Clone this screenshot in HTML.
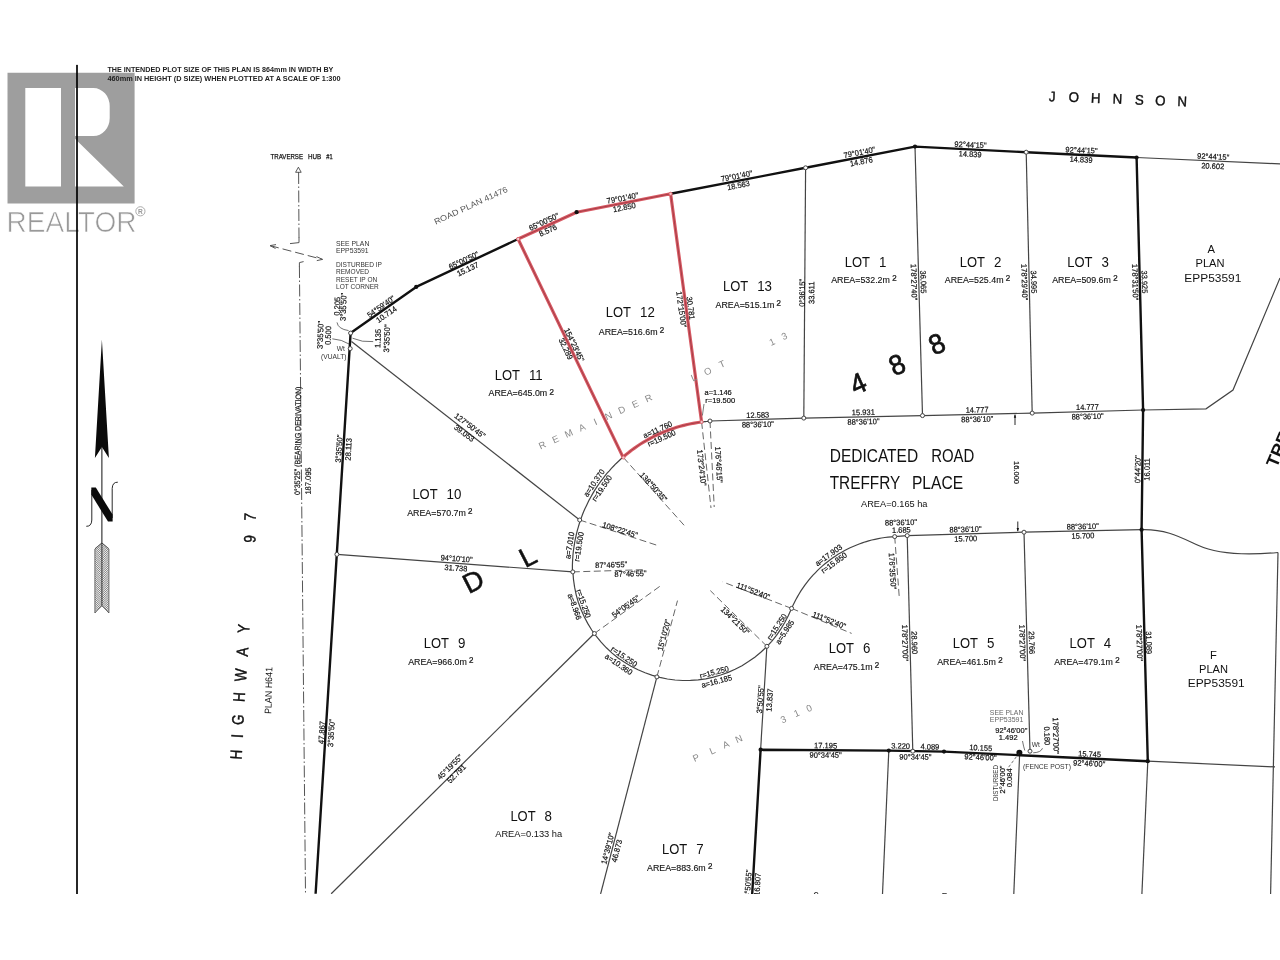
<!DOCTYPE html>
<html lang="en"><head><meta charset="utf-8"><title>Subdivision plan - Lot 12 Treffry Place</title>
<style>html,body{margin:0;padding:0;background:#fff;}body{width:1280px;height:960px;overflow:hidden;}svg{display:block;filter:blur(0.3px);}text{font-family:"Liberation Sans",sans-serif;}</style></head>
<body>
<svg width="1280" height="960" viewBox="0 0 1280 960" font-family="'Liberation Sans', sans-serif">
<rect width="1280" height="960" fill="#fff"/>
<defs><clipPath id="cp"><rect x="0" y="64.5" width="1280" height="829.5"/></clipPath></defs>
<g clip-path="url(#cp)">
<g>
<path fill-rule="evenodd" fill="#9e9e9e" d="M7.5 72.8 H134.6 V203.4 H7.5 Z M25.3 88.1 V186.6 H61 V88.1 Z M75 88.1 V136 H93.5 A16.2 18 0 0 0 109.7 118 V106.1 A16.2 18 0 0 0 93.5 88.1 Z M75 138.8 V186.6 H123.8 Z"/>
</g>
<text x="6.6" y="231.9" font-size="30.2" textLength="130" lengthAdjust="spacingAndGlyphs" fill="#999" stroke="#fff" stroke-width="0.7">REALTOR</text>
<circle cx="140.4" cy="211.3" r="4.6" fill="none" stroke="#a2a2a2" stroke-width="0.9"/>
<text x="140.4" y="213.7" font-size="6.6" text-anchor="middle" fill="#9a9a9a" font-weight="bold">R</text>
<text transform="translate(107.4 69.3)" y="2.51" font-size="7.0" text-anchor="start" fill="#222" textLength="226.0" lengthAdjust="spacingAndGlyphs" font-weight="bold">THE INTENDED PLOT SIZE OF THIS PLAN IS 864mm IN WIDTH BY</text>
<text transform="translate(107.4 78.7)" y="2.51" font-size="7.0" text-anchor="start" fill="#222" textLength="233.2" lengthAdjust="spacingAndGlyphs" font-weight="bold">460mm IN HEIGHT (D SIZE) WHEN PLOTTED AT A SCALE OF 1:300</text>
<path d="M77.0 64.7 L77.0 894.0" fill="none" stroke="#000" stroke-width="1.70"/>
<path d="M1136.6 157.5 L1280.0 163.9" fill="none" stroke="#444" stroke-width="1.20"/>
<path d="M805.6 167.8 L803.8 418.1" fill="none" stroke="#444" stroke-width="1.20"/>
<path d="M915.0 146.6 L922.5 415.6" fill="none" stroke="#444" stroke-width="1.20"/>
<path d="M1026.2 152.2 L1032.2 413.1" fill="none" stroke="#444" stroke-width="1.20"/>
<path d="M710.0 421.0 L803.8 418.1 L922.5 415.6 L1032.2 413.1 L1143.1 410.0 L1206.0 408.8 L1233.0 390.0 L1280.0 278.0" fill="none" stroke="#444" stroke-width="1.20"/>
<path d="M894.7 536.6 L907.2 535.6 L1024.0 532.2 L1141.6 529.7" fill="none" stroke="#444" stroke-width="1.20"/>
<path d="M907.2 535.6 L912.8 751.2" fill="none" stroke="#444" stroke-width="1.20"/>
<path d="M1024.0 532.2 L1030.0 751.2" fill="none" stroke="#444" stroke-width="1.20"/>
<path d="M351.5 341.5 L579.7 520.0" fill="none" stroke="#444" stroke-width="1.20"/>
<path d="M336.9 554.4 L572.8 571.9" fill="none" stroke="#444" stroke-width="1.20"/>
<path d="M594.4 633.5 L331.2 893.8" fill="none" stroke="#444" stroke-width="1.20"/>
<path d="M656.9 676.9 L600.6 894.0" fill="none" stroke="#444" stroke-width="1.20"/>
<path d="M766.9 646.3 L760.6 749.7" fill="none" stroke="#444" stroke-width="1.20"/>
<path d="M888.8 750.6 L882.5 894.0" fill="none" stroke="#444" stroke-width="1.20"/>
<path d="M1019.6 754.9 L1013.8 894.0" fill="none" stroke="#444" stroke-width="1.20"/>
<path d="M1147.8 761.2 L1141.9 894.0" fill="none" stroke="#444" stroke-width="1.20"/>
<path d="M1147.8 761.2 L1275.0 766.9" fill="none" stroke="#444" stroke-width="1.20"/>
<path d="M1278.0 552.5 L1270.6 894.0" fill="none" stroke="#444" stroke-width="1.20"/>
<path d="M1141.6 529.7 C1166 529 1180 537 1198 545.3 S1240 556 1278 552.5" fill="none" stroke="#444" stroke-width="1.2"/>
<path d="M572.4 571.9 L572.4 568.7 L572.4 565.4 L572.5 562.2 L572.7 559.0 L572.9 555.7 L573.2 552.5 L573.6 549.3 L574.1 546.1 L574.6 542.9 L575.2 539.7 L575.9 536.5 L576.6 533.4 L577.4 530.2 L578.3 527.1 L579.2 524.0 L580.2 520.9 L581.3 517.9 L582.4 514.8 L583.6 511.8 L584.9 508.8 L586.3 505.9 L587.7 503.0 L589.1 500.1 L590.7 497.2 L592.3 494.4 L593.9 491.6 L595.6 488.9 L597.4 486.2 L599.2 483.5 L601.1 480.9 L603.1 478.3 L605.1 475.7 L607.1 473.2 L609.3 470.8 L611.4 468.4 L613.7 466.0 L615.9 463.7 L618.3 461.5 L620.6 459.3 L623.0 457.1" fill="none" stroke="#444" stroke-width="1.20"/>
<path d="M701.6 422.0 L701.8 422.0 L702.0 422.0 L702.2 421.9 L702.5 421.9 L702.7 421.9 L702.9 421.9 L703.1 421.9 L703.3 421.8 L703.5 421.8 L703.7 421.8 L703.9 421.8 L704.1 421.7 L704.3 421.7 L704.6 421.7 L704.8 421.7 L705.0 421.6 L705.2 421.6 L705.4 421.6 L705.6 421.6 L705.8 421.6 L706.0 421.5 L706.2 421.5 L706.4 421.5 L706.6 421.5 L706.9 421.5 L707.1 421.5 L707.3 421.4 L707.5 421.4 L707.7 421.4 L707.9 421.4 L708.1 421.4 L708.3 421.3 L708.5 421.3 L708.8 421.3 L709.0 421.3 L709.2 421.3 L709.4 421.3 L709.6 421.3 L709.8 421.2 L710.0 421.2" fill="none" stroke="#444" stroke-width="1.20"/>
<path d="M572.9 571.9 L573.5 579.6 L574.6 587.2 L576.2 594.8 L578.3 602.2 L581.0 609.5 L584.1 616.5 L587.7 623.4 L591.7 630.0 L596.2 636.2 L601.1 642.2 L606.4 647.8 L612.1 653.1 L618.1 657.9 L624.5 662.3 L631.1 666.3 L638.0 669.8 L645.1 672.8 L652.4 675.4 L659.8 677.4 L667.4 679.0 L675.0 680.0 L682.7 680.5 L690.5 680.4 L698.2 679.8 L705.8 678.8 L713.4 677.1 L720.8 675.0 L728.1 672.4 L735.1 669.3 L742.0 665.7 L748.5 661.6 L754.8 657.2 L760.8 652.3 L766.4 647.0 L771.7 641.3 L776.5 635.3 L780.9 628.9 L784.9 622.3 L788.4 615.5 L791.5 608.4" fill="none" stroke="#444" stroke-width="1.20"/>
<path d="M791.6 608.4 L792.9 605.4 L794.4 602.4 L795.9 599.5 L797.5 596.6 L799.2 593.7 L800.9 590.9 L802.8 588.1 L804.7 585.4 L806.6 582.8 L808.7 580.2 L810.8 577.7 L813.0 575.2 L815.3 572.8 L817.6 570.4 L820.0 568.1 L822.5 565.9 L825.0 563.8 L827.6 561.7 L830.2 559.7 L832.9 557.8 L835.6 555.9 L838.4 554.1 L841.3 552.4 L844.2 550.8 L847.1 549.3 L850.1 547.8 L853.1 546.5 L856.1 545.2 L859.2 544.0 L862.3 542.9 L865.5 541.8 L868.6 540.9 L871.8 540.0 L875.0 539.3 L878.3 538.6 L881.5 538.0 L884.8 537.5 L888.1 537.1 L891.4 536.8 L894.7 536.6" fill="none" stroke="#444" stroke-width="1.20"/>
<path d="M623.4 457.5 L684.4 525.6" fill="none" stroke="#666" stroke-width="1.00" stroke-dasharray="7 3.5"/>
<path d="M579.7 520.0 L656.2 545.0" fill="none" stroke="#666" stroke-width="1.00" stroke-dasharray="7 3.5"/>
<path d="M572.8 571.9 L645.9 569.6" fill="none" stroke="#666" stroke-width="1.00" stroke-dasharray="7 3.5"/>
<path d="M594.4 633.5 L662.5 584.4" fill="none" stroke="#666" stroke-width="1.00" stroke-dasharray="7 3.5"/>
<path d="M656.9 676.9 L677.5 600.6" fill="none" stroke="#666" stroke-width="1.00" stroke-dasharray="7 3.5"/>
<path d="M766.9 646.3 L710.3 590.6" fill="none" stroke="#666" stroke-width="1.00" stroke-dasharray="7 3.5"/>
<path d="M791.6 608.4 L722.8 581.9" fill="none" stroke="#666" stroke-width="1.00" stroke-dasharray="7 3.5"/>
<path d="M791.6 608.4 L851.6 633.4" fill="none" stroke="#666" stroke-width="1.00" stroke-dasharray="7 3.5"/>
<path d="M701.6 421.9 L711.0 508.0" fill="none" stroke="#666" stroke-width="1.00" stroke-dasharray="7 3.5"/>
<path d="M710.0 421.0 L714.2 507.0" fill="none" stroke="#666" stroke-width="1.00" stroke-dasharray="7 3.5"/>
<path d="M894.7 536.6 L899.4 599.0" fill="none" stroke="#666" stroke-width="1.00" stroke-dasharray="7 3.5"/>
<path d="M298.6 172.0 L299.0 238.0" fill="none" stroke="#555" stroke-width="1.00" stroke-dasharray="12 2.5 1.5 2.5"/>
<path d="M299.0 237.5 L299.0 242.6 L290.0 243.6" fill="none" stroke="#555" stroke-width="1.00"/>
<path d="M299.4 266.5 L299.4 262.6 L303.6 261.6" fill="none" stroke="#555" stroke-width="1.00"/>
<path d="M299.4 266.0 L305.5 894.0" fill="none" stroke="#555" stroke-width="1.00" stroke-dasharray="12 2.5 1.5 2.5"/>
<path d="M270.0 245.6 L322.5 259.4" fill="none" stroke="#555" stroke-width="1.00" stroke-dasharray="9 4"/>
<path d="M276.0 244.6 L270.0 245.6 L275.5 248.5" fill="none" stroke="#555" stroke-width="1.00"/>
<path d="M316.5 256.6 L322.5 259.4 L316.8 260.6" fill="none" stroke="#555" stroke-width="1.00"/>
<path d="M298.4 167.2 L295.6 172.3 L301.2 172.3 Z" fill="#fff" stroke="#333" stroke-width="0.8"/>
<path d="M315.6 893.8 L350.6 333.1 L416.2 286.9 L518.1 239.0" fill="none" stroke="#111" stroke-width="2.40" stroke-linejoin="round"/>
<path d="M670.6 193.8 L805.6 167.8 L915.0 146.6 L1026.2 152.2 L1136.6 157.5 L1143.1 410.0 L1141.6 529.7 L1147.8 761.2 L944.0 751.6 L888.8 750.6 L760.6 749.7 L752.2 894.0" fill="none" stroke="#111" stroke-width="2.40" stroke-linejoin="round"/>
<path d="M518.1 239.0 L576.6 212.2 L670.6 193.8 L701.6 422.0 L698.0 422.5 L694.4 423.1 L690.8 423.8 L687.3 424.5 L683.7 425.4 L680.2 426.3 L676.7 427.3 L673.3 428.4 L669.8 429.6 L666.4 430.9 L663.1 432.3 L659.7 433.7 L656.4 435.2 L653.1 436.8 L649.9 438.5 L646.7 440.3 L643.6 442.1 L640.5 444.0 L637.5 446.0 L634.5 448.1 L631.5 450.2 L628.7 452.5 L625.8 454.7 L623.0 457.1 Z" fill="none" stroke="#d85a64" stroke-width="3.2" stroke-linejoin="round"/>
<path d="M518.1 239.0 L576.6 212.2 L670.6 193.8 L701.6 422.0 L698.0 422.5 L694.4 423.1 L690.8 423.8 L687.3 424.5 L683.7 425.4 L680.2 426.3 L676.7 427.3 L673.3 428.4 L669.8 429.6 L666.4 430.9 L663.1 432.3 L659.7 433.7 L656.4 435.2 L653.1 436.8 L649.9 438.5 L646.7 440.3 L643.6 442.1 L640.5 444.0 L637.5 446.0 L634.5 448.1 L631.5 450.2 L628.7 452.5 L625.8 454.7 L623.0 457.1 Z" fill="none" stroke="#8e3038" stroke-width="0.9" stroke-linejoin="round" opacity="0.75"/>
<circle cx="416.2" cy="286.9" r="2.1" fill="#111"/>
<circle cx="576.6" cy="212.2" r="2.1" fill="#111"/>
<circle cx="915.0" cy="146.6" r="2.1" fill="#111"/>
<circle cx="1136.6" cy="157.5" r="2.1" fill="#111"/>
<circle cx="1143.1" cy="410.0" r="2.1" fill="#111"/>
<circle cx="1141.6" cy="529.7" r="2.1" fill="#111"/>
<circle cx="1147.8" cy="761.2" r="2.1" fill="#111"/>
<circle cx="760.6" cy="749.7" r="2.1" fill="#111"/>
<circle cx="888.8" cy="750.6" r="2.1" fill="#111"/>
<circle cx="944.0" cy="751.6" r="2.1" fill="#111"/>
<circle cx="1019.4" cy="752.7" r="3" fill="#111"/>
<circle cx="350.6" cy="333.1" r="2.0" fill="#fff" stroke="#444" stroke-width="1.0"/>
<circle cx="350.2" cy="348.6" r="2.0" fill="#fff" stroke="#444" stroke-width="1.0"/>
<circle cx="336.9" cy="554.4" r="2.0" fill="#fff" stroke="#444" stroke-width="1.0"/>
<circle cx="579.7" cy="520.0" r="2.0" fill="#fff" stroke="#444" stroke-width="1.0"/>
<circle cx="572.8" cy="571.9" r="2.0" fill="#fff" stroke="#444" stroke-width="1.0"/>
<circle cx="594.4" cy="633.5" r="2.0" fill="#fff" stroke="#444" stroke-width="1.0"/>
<circle cx="656.9" cy="676.9" r="2.0" fill="#fff" stroke="#444" stroke-width="1.0"/>
<circle cx="766.9" cy="646.3" r="2.0" fill="#fff" stroke="#444" stroke-width="1.0"/>
<circle cx="791.6" cy="608.4" r="2.0" fill="#fff" stroke="#444" stroke-width="1.0"/>
<circle cx="710.0" cy="421.0" r="2.0" fill="#fff" stroke="#444" stroke-width="1.0"/>
<circle cx="803.8" cy="418.1" r="2.0" fill="#fff" stroke="#444" stroke-width="1.0"/>
<circle cx="922.5" cy="415.6" r="2.0" fill="#fff" stroke="#444" stroke-width="1.0"/>
<circle cx="1032.2" cy="413.1" r="2.0" fill="#fff" stroke="#444" stroke-width="1.0"/>
<circle cx="805.6" cy="167.8" r="2.0" fill="#fff" stroke="#444" stroke-width="1.0"/>
<circle cx="1026.2" cy="152.2" r="2.0" fill="#fff" stroke="#444" stroke-width="1.0"/>
<circle cx="894.7" cy="536.6" r="2.0" fill="#fff" stroke="#444" stroke-width="1.0"/>
<circle cx="907.2" cy="535.6" r="2.0" fill="#fff" stroke="#444" stroke-width="1.0"/>
<circle cx="1024.0" cy="532.2" r="2.0" fill="#fff" stroke="#444" stroke-width="1.0"/>
<circle cx="912.8" cy="751.2" r="2.0" fill="#fff" stroke="#444" stroke-width="1.0"/>
<circle cx="1030.0" cy="751.2" r="2.0" fill="#fff" stroke="#444" stroke-width="1.0"/>
<circle cx="623.4" cy="457.5" r="1.6" fill="#f3c9cc" stroke="#d85a64" stroke-width="0.8"/>
<circle cx="701.6" cy="421.9" r="1.6" fill="#f3c9cc" stroke="#d85a64" stroke-width="0.8"/>
<circle cx="518.1" cy="239.0" r="1.6" fill="#f3c9cc" stroke="#d85a64" stroke-width="0.8"/>
<circle cx="670.6" cy="193.8" r="1.6" fill="#f3c9cc" stroke="#d85a64" stroke-width="0.8"/>
<path d="M1015.0 414.7 L1015.0 425.0" fill="none" stroke="#111" stroke-width="0.90"/>
<path d="M1017.8 521.5 L1017.8 531.0" fill="none" stroke="#111" stroke-width="0.90"/>
<path d="M1015 414.2 l-1.2 3.5 h2.4 Z" fill="#111"/>
<path d="M1017.8 531.6 l-1.2 -3.5 h2.4 Z" fill="#111"/>
<text y="316.90" font-size="14.8" fill="#111"><tspan x="605.8" textLength="25.0" lengthAdjust="spacingAndGlyphs">LOT</tspan> <tspan x="640.0" textLength="14.8" lengthAdjust="spacingAndGlyphs">12</tspan></text>
<text x="598.8" y="335.08" font-size="8.6" fill="#111" stroke="#111" stroke-width="0.12"><tspan textLength="58.7" lengthAdjust="spacingAndGlyphs">AREA=516.6m</tspan><tspan x="659.7" dy="1.2" font-size="13">²</tspan></text>
<text y="290.90" font-size="14.8" fill="#111"><tspan x="723.0" textLength="25.0" lengthAdjust="spacingAndGlyphs">LOT</tspan> <tspan x="757.2" textLength="14.8" lengthAdjust="spacingAndGlyphs">13</tspan></text>
<text x="715.6" y="307.78" font-size="8.6" fill="#111" stroke="#111" stroke-width="0.12"><tspan textLength="58.7" lengthAdjust="spacingAndGlyphs">AREA=515.1m</tspan><tspan x="776.6" dy="1.2" font-size="13">²</tspan></text>
<text y="266.90" font-size="14.8" fill="#111"><tspan x="844.8" textLength="25.0" lengthAdjust="spacingAndGlyphs">LOT</tspan> <tspan x="879.0" textLength="7.4" lengthAdjust="spacingAndGlyphs">1</tspan></text>
<text x="831.2" y="282.78" font-size="8.6" fill="#111" stroke="#111" stroke-width="0.12"><tspan textLength="58.7" lengthAdjust="spacingAndGlyphs">AREA=532.2m</tspan><tspan x="892.2" dy="1.2" font-size="13">²</tspan></text>
<text y="266.90" font-size="14.8" fill="#111"><tspan x="959.8" textLength="25.0" lengthAdjust="spacingAndGlyphs">LOT</tspan> <tspan x="994.0" textLength="7.4" lengthAdjust="spacingAndGlyphs">2</tspan></text>
<text x="944.8" y="282.78" font-size="8.6" fill="#111" stroke="#111" stroke-width="0.12"><tspan textLength="58.7" lengthAdjust="spacingAndGlyphs">AREA=525.4m</tspan><tspan x="1005.7" dy="1.2" font-size="13">²</tspan></text>
<text y="266.50" font-size="14.8" fill="#111"><tspan x="1067.2" textLength="25.0" lengthAdjust="spacingAndGlyphs">LOT</tspan> <tspan x="1101.4" textLength="7.4" lengthAdjust="spacingAndGlyphs">3</tspan></text>
<text x="1052.2" y="282.78" font-size="8.6" fill="#111" stroke="#111" stroke-width="0.12"><tspan textLength="58.7" lengthAdjust="spacingAndGlyphs">AREA=509.6m</tspan><tspan x="1113.2" dy="1.2" font-size="13">²</tspan></text>
<text y="380.00" font-size="14.8" fill="#111"><tspan x="494.7" textLength="25.0" lengthAdjust="spacingAndGlyphs">LOT</tspan> <tspan x="528.9" textLength="13.8" lengthAdjust="spacingAndGlyphs">11</tspan></text>
<text x="488.5" y="396.48" font-size="8.6" fill="#111" stroke="#111" stroke-width="0.12"><tspan textLength="58.7" lengthAdjust="spacingAndGlyphs">AREA=645.0m</tspan><tspan x="549.4" dy="1.2" font-size="13">²</tspan></text>
<text y="499.05" font-size="14.8" fill="#111"><tspan x="412.4" textLength="25.0" lengthAdjust="spacingAndGlyphs">LOT</tspan> <tspan x="446.6" textLength="14.8" lengthAdjust="spacingAndGlyphs">10</tspan></text>
<text x="407.2" y="516.08" font-size="8.6" fill="#111" stroke="#111" stroke-width="0.12"><tspan textLength="58.7" lengthAdjust="spacingAndGlyphs">AREA=570.7m</tspan><tspan x="468.1" dy="1.2" font-size="13">²</tspan></text>
<text y="648.30" font-size="14.8" fill="#111"><tspan x="423.8" textLength="25.0" lengthAdjust="spacingAndGlyphs">LOT</tspan> <tspan x="458.0" textLength="7.4" lengthAdjust="spacingAndGlyphs">9</tspan></text>
<text x="408.2" y="664.68" font-size="8.6" fill="#111" stroke="#111" stroke-width="0.12"><tspan textLength="58.7" lengthAdjust="spacingAndGlyphs">AREA=966.0m</tspan><tspan x="469.1" dy="1.2" font-size="13">²</tspan></text>
<text y="820.90" font-size="14.8" fill="#111"><tspan x="510.4" textLength="25.0" lengthAdjust="spacingAndGlyphs">LOT</tspan> <tspan x="544.6" textLength="7.4" lengthAdjust="spacingAndGlyphs">8</tspan></text>
<text x="495.2" y="837.48" font-size="8.6" fill="#111" textLength="67.0" lengthAdjust="spacingAndGlyphs">AREA=0.133 ha</text>
<text y="854.30" font-size="14.8" fill="#111"><tspan x="662.0" textLength="25.0" lengthAdjust="spacingAndGlyphs">LOT</tspan> <tspan x="696.2" textLength="7.4" lengthAdjust="spacingAndGlyphs">7</tspan></text>
<text x="647.0" y="870.58" font-size="8.6" fill="#111" stroke="#111" stroke-width="0.12"><tspan textLength="58.7" lengthAdjust="spacingAndGlyphs">AREA=883.6m</tspan><tspan x="707.9" dy="1.2" font-size="13">²</tspan></text>
<text y="653.10" font-size="14.8" fill="#111"><tspan x="828.7" textLength="25.0" lengthAdjust="spacingAndGlyphs">LOT</tspan> <tspan x="862.9" textLength="7.4" lengthAdjust="spacingAndGlyphs">6</tspan></text>
<text x="813.8" y="669.98" font-size="8.6" fill="#111" stroke="#111" stroke-width="0.12"><tspan textLength="58.7" lengthAdjust="spacingAndGlyphs">AREA=475.1m</tspan><tspan x="874.7" dy="1.2" font-size="13">²</tspan></text>
<text y="648.10" font-size="14.8" fill="#111"><tspan x="952.8" textLength="25.0" lengthAdjust="spacingAndGlyphs">LOT</tspan> <tspan x="987.0" textLength="7.4" lengthAdjust="spacingAndGlyphs">5</tspan></text>
<text x="937.2" y="664.68" font-size="8.6" fill="#111" stroke="#111" stroke-width="0.12"><tspan textLength="58.7" lengthAdjust="spacingAndGlyphs">AREA=461.5m</tspan><tspan x="998.2" dy="1.2" font-size="13">²</tspan></text>
<text y="648.10" font-size="14.8" fill="#111"><tspan x="1069.6" textLength="25.0" lengthAdjust="spacingAndGlyphs">LOT</tspan> <tspan x="1103.8" textLength="7.4" lengthAdjust="spacingAndGlyphs">4</tspan></text>
<text x="1054.2" y="664.68" font-size="8.6" fill="#111" stroke="#111" stroke-width="0.12"><tspan textLength="58.7" lengthAdjust="spacingAndGlyphs">AREA=479.1m</tspan><tspan x="1115.2" dy="1.2" font-size="13">²</tspan></text>
<text y="462.29" font-size="18.7" fill="#111"><tspan x="829.7" textLength="88.4" lengthAdjust="spacingAndGlyphs">DEDICATED</tspan> <tspan x="931.2" textLength="43.2" lengthAdjust="spacingAndGlyphs">ROAD</tspan></text>
<text y="488.89" font-size="18.7" fill="#111"><tspan x="829.7" textLength="70.3" lengthAdjust="spacingAndGlyphs">TREFFRY</tspan> <tspan x="911.9" textLength="51.2" lengthAdjust="spacingAndGlyphs">PLACE</tspan></text>
<text x="861.0" y="507.48" font-size="8.6" fill="#111" textLength="66.5" lengthAdjust="spacingAndGlyphs">AREA=0.165 ha</text>
<text transform="translate(1211.2 249.4)" y="4.01" font-size="11.2" text-anchor="middle" fill="#111">A</text>
<text transform="translate(1213.5 655.3)" y="4.01" font-size="11.2" text-anchor="middle" fill="#111">F</text>
<text transform="translate(1210.0 263.2)" y="4.01" font-size="11.2" text-anchor="middle" fill="#111" textLength="29.0" lengthAdjust="spacingAndGlyphs">PLAN</text>
<text transform="translate(1212.8 277.5)" y="4.01" font-size="11.2" text-anchor="middle" fill="#111" textLength="57.0" lengthAdjust="spacingAndGlyphs">EPP53591</text>
<text transform="translate(1213.5 669.0)" y="4.01" font-size="11.2" text-anchor="middle" fill="#111" textLength="29.0" lengthAdjust="spacingAndGlyphs">PLAN</text>
<text transform="translate(1216.2 683.2)" y="4.01" font-size="11.2" text-anchor="middle" fill="#111" textLength="57.0" lengthAdjust="spacingAndGlyphs">EPP53591</text>
<text transform="rotate(2.20) scale(0.950 1)" x="1110.7 1133.5 1156.4 1179.4 1202.5 1224.7 1247.7" y="60.9 60.6 60.8 60.7 60.8 60.8 60.8" font-size="14.0" fill="#111" text-anchor="middle" stroke="#111" stroke-width="0.4">JOHNSON</text>
<text transform="rotate(-86.40) scale(0.820 1)" x="-900.1 -877.6 -857.6 -829.9 -803.1 -775.0 -746.6 -691.7 -636.8 -610.1" y="288.8 288.7 288.4 288.2 288.4 288.4 288.3 288.6 288.9 287.8" font-size="16.5" fill="#111" text-anchor="middle" stroke="#111" stroke-width="0.45">HIGHWAY 97</text>
<text transform="rotate(-24.00) scale(0.950 1)" x="661.0 706.6 753.7" y="708.9 707.6 704.9" font-size="28.0" fill="#111" text-anchor="middle" stroke="#111" stroke-width="0.7">488</text>
<text transform="rotate(-27.00)" x="157.9 217.7" y="742.4 744.8" font-size="27.5" fill="#111" text-anchor="middle" stroke="#111" stroke-width="0.5">DL</text>
<text transform="translate(1270.9 466.0) rotate(-67.0)" y="6.26" font-size="17.5" text-anchor="start" fill="#111" textLength="82.8" lengthAdjust="spacingAndGlyphs" font-weight="bold">TREFFRY</text>
<text transform="rotate(-24.40)" x="309.9 324.5 339.0 353.5 368.0 382.5 397.0 411.6 426.1 451.0 476.0 491.3 507.1 534.4 561.8 575.5" y="632.6 632.8 632.9 633.0 633.2 633.3 633.4 633.6 633.7 633.6 633.5 633.7 633.1 633.3 633.5 633.4" font-size="9.5" fill="#8a8a8a" text-anchor="middle">REMAINDER LOT 13</text>
<text transform="rotate(-23.70)" x="332.8 350.5 365.3 379.5 403.8 428.2 442.7 456.2" y="976.8 977.0 976.7 976.8 976.9 977.0 976.5 976.9" font-size="9.5" fill="#8a8a8a" text-anchor="middle">PLAN 310</text>
<text transform="translate(470.8 205.3) rotate(-24.6)" y="2.94" font-size="8.2" text-anchor="middle" fill="#555" textLength="80.0" lengthAdjust="spacingAndGlyphs">ROAD PLAN 41476</text>
<text transform="translate(463.6 260.4) rotate(-25.2)" y="2.83" font-size="7.9" text-anchor="middle" fill="#111" textLength="32.1" lengthAdjust="spacingAndGlyphs" stroke="#111" stroke-width="0.2">65°00'50"</text>
<text transform="translate(467.6 269.0) rotate(-25.2)" y="2.83" font-size="7.9" text-anchor="middle" fill="#111" textLength="23.0" lengthAdjust="spacingAndGlyphs" stroke="#111" stroke-width="0.2">15.137</text>
<text transform="translate(543.8 221.7) rotate(-24.8)" y="2.83" font-size="7.9" text-anchor="middle" fill="#111" textLength="32.1" lengthAdjust="spacingAndGlyphs" stroke="#111" stroke-width="0.2">65°00'50"</text>
<text transform="translate(547.8 230.3) rotate(-24.8)" y="2.83" font-size="7.9" text-anchor="middle" fill="#111" textLength="18.8" lengthAdjust="spacingAndGlyphs" stroke="#111" stroke-width="0.2">8.576</text>
<text transform="translate(622.5 198.0) rotate(-11.0)" y="2.83" font-size="7.9" text-anchor="middle" fill="#111" textLength="32.1" lengthAdjust="spacingAndGlyphs" stroke="#111" stroke-width="0.2">79°01'40"</text>
<text transform="translate(624.3 207.2) rotate(-11.0)" y="2.83" font-size="7.9" text-anchor="middle" fill="#111" textLength="23.0" lengthAdjust="spacingAndGlyphs" stroke="#111" stroke-width="0.2">12.850</text>
<text transform="translate(736.6 176.0) rotate(-11.0)" y="2.83" font-size="7.9" text-anchor="middle" fill="#111" textLength="32.1" lengthAdjust="spacingAndGlyphs" stroke="#111" stroke-width="0.2">79°01'40"</text>
<text transform="translate(738.4 185.2) rotate(-11.0)" y="2.83" font-size="7.9" text-anchor="middle" fill="#111" textLength="23.0" lengthAdjust="spacingAndGlyphs" stroke="#111" stroke-width="0.2">18.563</text>
<text transform="translate(859.4 152.3) rotate(-11.0)" y="2.83" font-size="7.9" text-anchor="middle" fill="#111" textLength="32.1" lengthAdjust="spacingAndGlyphs" stroke="#111" stroke-width="0.2">79°01'40"</text>
<text transform="translate(861.2 161.5) rotate(-11.0)" y="2.83" font-size="7.9" text-anchor="middle" fill="#111" textLength="23.0" lengthAdjust="spacingAndGlyphs" stroke="#111" stroke-width="0.2">14.876</text>
<text transform="translate(970.5 144.6) rotate(2.7)" y="2.83" font-size="7.9" text-anchor="middle" fill="#111" textLength="32.1" lengthAdjust="spacingAndGlyphs" stroke="#111" stroke-width="0.2">92°44'15"</text>
<text transform="translate(970.1 154.0) rotate(2.7)" y="2.83" font-size="7.9" text-anchor="middle" fill="#111" textLength="23.0" lengthAdjust="spacingAndGlyphs" stroke="#111" stroke-width="0.2">14.839</text>
<text transform="translate(1081.5 150.1) rotate(2.7)" y="2.83" font-size="7.9" text-anchor="middle" fill="#111" textLength="32.1" lengthAdjust="spacingAndGlyphs" stroke="#111" stroke-width="0.2">92°44'15"</text>
<text transform="translate(1081.0 159.5) rotate(2.7)" y="2.83" font-size="7.9" text-anchor="middle" fill="#111" textLength="23.0" lengthAdjust="spacingAndGlyphs" stroke="#111" stroke-width="0.2">14.839</text>
<text transform="translate(1213.2 156.5) rotate(2.7)" y="2.83" font-size="7.9" text-anchor="middle" fill="#111" textLength="32.1" lengthAdjust="spacingAndGlyphs" stroke="#111" stroke-width="0.2">92°44'15"</text>
<text transform="translate(1212.8 165.9) rotate(2.7)" y="2.83" font-size="7.9" text-anchor="middle" fill="#111" textLength="23.0" lengthAdjust="spacingAndGlyphs" stroke="#111" stroke-width="0.2">20.602</text>
<text transform="translate(380.9 306.5) rotate(-35.0)" y="2.83" font-size="7.9" text-anchor="middle" fill="#111" textLength="32.1" lengthAdjust="spacingAndGlyphs" stroke="#111" stroke-width="0.2">54°59'40"</text>
<text transform="translate(386.3 314.3) rotate(-35.0)" y="2.83" font-size="7.9" text-anchor="middle" fill="#111" textLength="23.0" lengthAdjust="spacingAndGlyphs" stroke="#111" stroke-width="0.2">10.714</text>
<text transform="translate(923.5 281.9) rotate(88.5)" y="2.83" font-size="7.9" text-anchor="middle" fill="#111" textLength="23.0" lengthAdjust="spacingAndGlyphs" stroke="#111" stroke-width="0.2">36.065</text>
<text transform="translate(914.1 282.1) rotate(88.5)" y="2.83" font-size="7.9" text-anchor="middle" fill="#111" textLength="36.3" lengthAdjust="spacingAndGlyphs" stroke="#111" stroke-width="0.2">178°27'40"</text>
<text transform="translate(1034.0 281.9) rotate(88.5)" y="2.83" font-size="7.9" text-anchor="middle" fill="#111" textLength="23.0" lengthAdjust="spacingAndGlyphs" stroke="#111" stroke-width="0.2">34.995</text>
<text transform="translate(1024.6 282.1) rotate(88.5)" y="2.83" font-size="7.9" text-anchor="middle" fill="#111" textLength="36.3" lengthAdjust="spacingAndGlyphs" stroke="#111" stroke-width="0.2">178°29'40"</text>
<text transform="translate(1144.7 281.9) rotate(88.5)" y="2.83" font-size="7.9" text-anchor="middle" fill="#111" textLength="23.0" lengthAdjust="spacingAndGlyphs" stroke="#111" stroke-width="0.2">33.925</text>
<text transform="translate(1135.3 282.1) rotate(88.5)" y="2.83" font-size="7.9" text-anchor="middle" fill="#111" textLength="36.3" lengthAdjust="spacingAndGlyphs" stroke="#111" stroke-width="0.2">178°31'50"</text>
<text transform="translate(690.9 308.1) rotate(82.3)" y="2.83" font-size="7.9" text-anchor="middle" fill="#111" textLength="23.0" lengthAdjust="spacingAndGlyphs" stroke="#111" stroke-width="0.2">30.781</text>
<text transform="translate(681.5 309.4) rotate(82.3)" y="2.83" font-size="7.9" text-anchor="middle" fill="#111" textLength="36.3" lengthAdjust="spacingAndGlyphs" stroke="#111" stroke-width="0.2">172°15'00"</text>
<text transform="translate(574.4 344.8) rotate(64.3)" y="2.83" font-size="7.9" text-anchor="middle" fill="#111" textLength="36.3" lengthAdjust="spacingAndGlyphs" stroke="#111" stroke-width="0.2">154°23'45"</text>
<text transform="translate(566.0 348.8) rotate(64.3)" y="2.83" font-size="7.9" text-anchor="middle" fill="#111" textLength="23.0" lengthAdjust="spacingAndGlyphs" stroke="#111" stroke-width="0.2">32.289</text>
<text transform="translate(914.6 642.7) rotate(88.5)" y="2.83" font-size="7.9" text-anchor="middle" fill="#111" textLength="23.0" lengthAdjust="spacingAndGlyphs" stroke="#111" stroke-width="0.2">28.960</text>
<text transform="translate(905.2 642.9) rotate(88.5)" y="2.83" font-size="7.9" text-anchor="middle" fill="#111" textLength="36.3" lengthAdjust="spacingAndGlyphs" stroke="#111" stroke-width="0.2">178°27'00"</text>
<text transform="translate(1031.9 642.7) rotate(88.5)" y="2.83" font-size="7.9" text-anchor="middle" fill="#111" textLength="23.0" lengthAdjust="spacingAndGlyphs" stroke="#111" stroke-width="0.2">29.766</text>
<text transform="translate(1022.5 642.9) rotate(88.5)" y="2.83" font-size="7.9" text-anchor="middle" fill="#111" textLength="36.3" lengthAdjust="spacingAndGlyphs" stroke="#111" stroke-width="0.2">178°27'00"</text>
<text transform="translate(1149.0 642.7) rotate(88.5)" y="2.83" font-size="7.9" text-anchor="middle" fill="#111" textLength="23.0" lengthAdjust="spacingAndGlyphs" stroke="#111" stroke-width="0.2">31.089</text>
<text transform="translate(1139.6 642.9) rotate(88.5)" y="2.83" font-size="7.9" text-anchor="middle" fill="#111" textLength="36.3" lengthAdjust="spacingAndGlyphs" stroke="#111" stroke-width="0.2">178°27'00"</text>
<text transform="translate(802.0 292.8) rotate(-89.5)" y="2.83" font-size="7.9" text-anchor="middle" fill="#111" textLength="28.0" lengthAdjust="spacingAndGlyphs" stroke="#111" stroke-width="0.2">0°36'15"</text>
<text transform="translate(811.4 292.8) rotate(-89.5)" y="2.83" font-size="7.9" text-anchor="middle" fill="#111" textLength="22.4" lengthAdjust="spacingAndGlyphs" stroke="#111" stroke-width="0.2">33.611</text>
<text transform="translate(338.9 448.7) rotate(-86.4)" y="2.83" font-size="7.9" text-anchor="middle" fill="#111" textLength="28.0" lengthAdjust="spacingAndGlyphs" stroke="#111" stroke-width="0.2">3°35'50"</text>
<text transform="translate(348.3 449.3) rotate(-86.4)" y="2.83" font-size="7.9" text-anchor="middle" fill="#111" textLength="22.4" lengthAdjust="spacingAndGlyphs" stroke="#111" stroke-width="0.2">28.113</text>
<text transform="translate(321.7 732.5) rotate(-86.4)" y="2.83" font-size="7.9" text-anchor="middle" fill="#111" textLength="23.0" lengthAdjust="spacingAndGlyphs" stroke="#111" stroke-width="0.2">47.867</text>
<text transform="translate(331.1 733.1) rotate(-86.4)" y="2.83" font-size="7.9" text-anchor="middle" fill="#111" textLength="28.0" lengthAdjust="spacingAndGlyphs" stroke="#111" stroke-width="0.2">3°35'50"</text>
<text transform="translate(1137.5 469.3) rotate(-89.3)" y="2.83" font-size="7.9" text-anchor="middle" fill="#111" textLength="28.0" lengthAdjust="spacingAndGlyphs" stroke="#111" stroke-width="0.2">0°44'20"</text>
<text transform="translate(1146.9 469.5) rotate(-89.3)" y="2.83" font-size="7.9" text-anchor="middle" fill="#111" textLength="22.4" lengthAdjust="spacingAndGlyphs" stroke="#111" stroke-width="0.2">16.011</text>
<text transform="translate(760.1 699.4) rotate(-86.2)" y="2.83" font-size="7.9" text-anchor="middle" fill="#111" textLength="28.0" lengthAdjust="spacingAndGlyphs" stroke="#111" stroke-width="0.2">3°50'55"</text>
<text transform="translate(769.5 700.0) rotate(-86.2)" y="2.83" font-size="7.9" text-anchor="middle" fill="#111" textLength="23.0" lengthAdjust="spacingAndGlyphs" stroke="#111" stroke-width="0.2">13.837</text>
<text transform="translate(747.9 883.7) rotate(-86.2)" y="2.83" font-size="7.9" text-anchor="middle" fill="#111" textLength="28.0" lengthAdjust="spacingAndGlyphs" stroke="#111" stroke-width="0.2">3°50'55"</text>
<text transform="translate(757.3 884.3) rotate(-86.2)" y="2.83" font-size="7.9" text-anchor="middle" fill="#111" textLength="23.0" lengthAdjust="spacingAndGlyphs" stroke="#111" stroke-width="0.2">16.807</text>
<text transform="translate(607.6 848.5) rotate(-75.4)" y="2.83" font-size="7.9" text-anchor="middle" fill="#111" textLength="32.1" lengthAdjust="spacingAndGlyphs" stroke="#111" stroke-width="0.2">14°39'10"</text>
<text transform="translate(616.6 850.9) rotate(-75.4)" y="2.83" font-size="7.9" text-anchor="middle" fill="#111" textLength="23.0" lengthAdjust="spacingAndGlyphs" stroke="#111" stroke-width="0.2">46.873</text>
<text transform="translate(449.7 767.0) rotate(-44.7)" y="2.83" font-size="7.9" text-anchor="middle" fill="#111" textLength="32.1" lengthAdjust="spacingAndGlyphs" stroke="#111" stroke-width="0.2">45°19'55"</text>
<text transform="translate(456.3 773.6) rotate(-44.7)" y="2.83" font-size="7.9" text-anchor="middle" fill="#111" textLength="23.0" lengthAdjust="spacingAndGlyphs" stroke="#111" stroke-width="0.2">52.791</text>
<text transform="translate(470.0 425.6) rotate(36.8)" y="2.83" font-size="7.9" text-anchor="middle" fill="#111" textLength="36.3" lengthAdjust="spacingAndGlyphs" stroke="#111" stroke-width="0.2">127°50'45"</text>
<text transform="translate(464.4 433.2) rotate(36.8)" y="2.83" font-size="7.9" text-anchor="middle" fill="#111" textLength="23.0" lengthAdjust="spacingAndGlyphs" stroke="#111" stroke-width="0.2">39.053</text>
<text transform="translate(456.6 558.5) rotate(4.2)" y="2.83" font-size="7.9" text-anchor="middle" fill="#111" textLength="32.1" lengthAdjust="spacingAndGlyphs" stroke="#111" stroke-width="0.2">94°10'10"</text>
<text transform="translate(455.9 567.9) rotate(4.2)" y="2.83" font-size="7.9" text-anchor="middle" fill="#111" textLength="23.0" lengthAdjust="spacingAndGlyphs" stroke="#111" stroke-width="0.2">31.738</text>
<text transform="translate(757.7 414.9) rotate(-1.4)" y="2.83" font-size="7.9" text-anchor="middle" fill="#111" textLength="23.0" lengthAdjust="spacingAndGlyphs" stroke="#111" stroke-width="0.2">12.583</text>
<text transform="translate(757.9 424.3) rotate(-1.4)" y="2.83" font-size="7.9" text-anchor="middle" fill="#111" textLength="32.1" lengthAdjust="spacingAndGlyphs" stroke="#111" stroke-width="0.2">88°36'10"</text>
<text transform="translate(863.3 412.2) rotate(-1.4)" y="2.83" font-size="7.9" text-anchor="middle" fill="#111" textLength="23.0" lengthAdjust="spacingAndGlyphs" stroke="#111" stroke-width="0.2">15.931</text>
<text transform="translate(863.5 421.6) rotate(-1.4)" y="2.83" font-size="7.9" text-anchor="middle" fill="#111" textLength="32.1" lengthAdjust="spacingAndGlyphs" stroke="#111" stroke-width="0.2">88°36'10"</text>
<text transform="translate(977.1 409.7) rotate(-1.4)" y="2.83" font-size="7.9" text-anchor="middle" fill="#111" textLength="23.0" lengthAdjust="spacingAndGlyphs" stroke="#111" stroke-width="0.2">14.777</text>
<text transform="translate(977.3 419.1) rotate(-1.4)" y="2.83" font-size="7.9" text-anchor="middle" fill="#111" textLength="32.1" lengthAdjust="spacingAndGlyphs" stroke="#111" stroke-width="0.2">88°36'10"</text>
<text transform="translate(1087.4 406.9) rotate(-1.4)" y="2.83" font-size="7.9" text-anchor="middle" fill="#111" textLength="23.0" lengthAdjust="spacingAndGlyphs" stroke="#111" stroke-width="0.2">14.777</text>
<text transform="translate(1087.6 416.3) rotate(-1.4)" y="2.83" font-size="7.9" text-anchor="middle" fill="#111" textLength="32.1" lengthAdjust="spacingAndGlyphs" stroke="#111" stroke-width="0.2">88°36'10"</text>
<text transform="translate(965.5 529.2) rotate(-1.4)" y="2.83" font-size="7.9" text-anchor="middle" fill="#111" textLength="32.1" lengthAdjust="spacingAndGlyphs" stroke="#111" stroke-width="0.2">88°36'10"</text>
<text transform="translate(965.7 538.6) rotate(-1.4)" y="2.83" font-size="7.9" text-anchor="middle" fill="#111" textLength="23.0" lengthAdjust="spacingAndGlyphs" stroke="#111" stroke-width="0.2">15.700</text>
<text transform="translate(1082.7 526.3) rotate(-1.4)" y="2.83" font-size="7.9" text-anchor="middle" fill="#111" textLength="32.1" lengthAdjust="spacingAndGlyphs" stroke="#111" stroke-width="0.2">88°36'10"</text>
<text transform="translate(1082.9 535.7) rotate(-1.4)" y="2.83" font-size="7.9" text-anchor="middle" fill="#111" textLength="23.0" lengthAdjust="spacingAndGlyphs" stroke="#111" stroke-width="0.2">15.700</text>
<text transform="translate(901.0 522.3) rotate(-1.4)" y="2.83" font-size="7.9" text-anchor="middle" fill="#111" textLength="32.1" lengthAdjust="spacingAndGlyphs" stroke="#111" stroke-width="0.2">88°36'10"</text>
<text transform="translate(901.3 529.9) rotate(-1.4)" y="2.83" font-size="7.9" text-anchor="middle" fill="#111" textLength="18.8" lengthAdjust="spacingAndGlyphs" stroke="#111" stroke-width="0.2">1.685</text>
<text transform="translate(825.6 745.5) rotate(0.5)" y="2.83" font-size="7.9" text-anchor="middle" fill="#111" textLength="23.0" lengthAdjust="spacingAndGlyphs" stroke="#111" stroke-width="0.2">17.195</text>
<text transform="translate(825.6 754.9) rotate(0.5)" y="2.83" font-size="7.9" text-anchor="middle" fill="#111" textLength="32.1" lengthAdjust="spacingAndGlyphs" stroke="#111" stroke-width="0.2">90°34'45"</text>
<text transform="translate(900.6 745.8) rotate(0.5)" y="2.83" font-size="7.9" text-anchor="middle" fill="#111" textLength="18.8" lengthAdjust="spacingAndGlyphs" stroke="#111" stroke-width="0.2">3.220</text>
<text transform="translate(929.9 746.6) rotate(0.5)" y="2.83" font-size="7.9" text-anchor="middle" fill="#111" textLength="18.8" lengthAdjust="spacingAndGlyphs" stroke="#111" stroke-width="0.2">4.089</text>
<text transform="translate(915.4 756.8) rotate(0.5)" y="2.83" font-size="7.9" text-anchor="middle" fill="#111" textLength="32.1" lengthAdjust="spacingAndGlyphs" stroke="#111" stroke-width="0.2">90°34'45"</text>
<text transform="translate(980.8 747.7) rotate(2.7)" y="2.83" font-size="7.9" text-anchor="middle" fill="#111" textLength="23.0" lengthAdjust="spacingAndGlyphs" stroke="#111" stroke-width="0.2">10.155</text>
<text transform="translate(980.4 757.1) rotate(2.7)" y="2.83" font-size="7.9" text-anchor="middle" fill="#111" textLength="32.1" lengthAdjust="spacingAndGlyphs" stroke="#111" stroke-width="0.2">92°46'00"</text>
<text transform="translate(1089.6 753.9) rotate(2.7)" y="2.83" font-size="7.9" text-anchor="middle" fill="#111" textLength="23.0" lengthAdjust="spacingAndGlyphs" stroke="#111" stroke-width="0.2">15.745</text>
<text transform="translate(1089.2 763.3) rotate(2.7)" y="2.83" font-size="7.9" text-anchor="middle" fill="#111" textLength="32.1" lengthAdjust="spacingAndGlyphs" stroke="#111" stroke-width="0.2">92°46'00"</text>
<text transform="translate(657.6 429.5) rotate(-24.1)" y="2.83" font-size="7.9" text-anchor="middle" fill="#111" textLength="31.0" lengthAdjust="spacingAndGlyphs" stroke="#111" stroke-width="0.2">a=11.760</text>
<text transform="translate(661.5 438.1) rotate(-24.1)" y="2.83" font-size="7.9" text-anchor="middle" fill="#111" textLength="29.8" lengthAdjust="spacingAndGlyphs" stroke="#111" stroke-width="0.2">r=19.500</text>
<text transform="translate(593.9 482.9) rotate(-55.8)" y="2.83" font-size="7.9" text-anchor="middle" fill="#111" textLength="31.5" lengthAdjust="spacingAndGlyphs" stroke="#111" stroke-width="0.2">a=10.370</text>
<text transform="translate(601.7 488.2) rotate(-55.8)" y="2.83" font-size="7.9" text-anchor="middle" fill="#111" textLength="29.8" lengthAdjust="spacingAndGlyphs" stroke="#111" stroke-width="0.2">r=19.500</text>
<text transform="translate(569.4 545.4) rotate(-81.3)" y="2.83" font-size="7.9" text-anchor="middle" fill="#111" textLength="27.3" lengthAdjust="spacingAndGlyphs" stroke="#111" stroke-width="0.2">a=7.010</text>
<text transform="translate(578.7 546.8) rotate(-81.3)" y="2.83" font-size="7.9" text-anchor="middle" fill="#111" textLength="29.8" lengthAdjust="spacingAndGlyphs" stroke="#111" stroke-width="0.2">r=19.500</text>
<text transform="translate(583.7 603.5) rotate(70.5)" y="2.83" font-size="7.9" text-anchor="middle" fill="#111" textLength="29.8" lengthAdjust="spacingAndGlyphs" stroke="#111" stroke-width="0.2">r=15.250</text>
<text transform="translate(574.8 606.6) rotate(70.5)" y="2.83" font-size="7.9" text-anchor="middle" fill="#111" textLength="27.3" lengthAdjust="spacingAndGlyphs" stroke="#111" stroke-width="0.2">a=8.966</text>
<text transform="translate(624.2 656.5) rotate(34.7)" y="2.83" font-size="7.9" text-anchor="middle" fill="#111" textLength="29.8" lengthAdjust="spacingAndGlyphs" stroke="#111" stroke-width="0.2">r=15.250</text>
<text transform="translate(618.9 664.2) rotate(34.7)" y="2.83" font-size="7.9" text-anchor="middle" fill="#111" textLength="31.5" lengthAdjust="spacingAndGlyphs" stroke="#111" stroke-width="0.2">a=10.360</text>
<text transform="translate(714.2 672.1) rotate(-15.1)" y="2.83" font-size="7.9" text-anchor="middle" fill="#111" textLength="29.8" lengthAdjust="spacingAndGlyphs" stroke="#111" stroke-width="0.2">r=15.250</text>
<text transform="translate(716.6 681.2) rotate(-15.1)" y="2.83" font-size="7.9" text-anchor="middle" fill="#111" textLength="31.5" lengthAdjust="spacingAndGlyphs" stroke="#111" stroke-width="0.2">a=16.185</text>
<text transform="translate(776.7 626.8) rotate(-56.7)" y="2.83" font-size="7.9" text-anchor="middle" fill="#111" textLength="29.8" lengthAdjust="spacingAndGlyphs" stroke="#111" stroke-width="0.2">r=15.250</text>
<text transform="translate(784.6 632.0) rotate(-56.7)" y="2.83" font-size="7.9" text-anchor="middle" fill="#111" textLength="27.3" lengthAdjust="spacingAndGlyphs" stroke="#111" stroke-width="0.2">a=5.985</text>
<text transform="translate(828.5 555.1) rotate(-35.8)" y="2.83" font-size="7.9" text-anchor="middle" fill="#111" textLength="31.5" lengthAdjust="spacingAndGlyphs" stroke="#111" stroke-width="0.2">a=17.903</text>
<text transform="translate(834.0 562.7) rotate(-35.8)" y="2.83" font-size="7.9" text-anchor="middle" fill="#111" textLength="29.8" lengthAdjust="spacingAndGlyphs" stroke="#111" stroke-width="0.2">r=15.850</text>
<text transform="translate(718.1 392.1)" y="2.83" font-size="7.9" text-anchor="middle" fill="#111" textLength="27.3" lengthAdjust="spacingAndGlyphs" stroke="#111" stroke-width="0.2">a=1.146</text>
<text transform="translate(720.2 400.0)" y="2.83" font-size="7.9" text-anchor="middle" fill="#111" textLength="29.8" lengthAdjust="spacingAndGlyphs" stroke="#111" stroke-width="0.2">r=19.500</text>
<path d="M704.0 404.0 L702.4 415.5" fill="none" stroke="#444" stroke-width="0.70"/>
<text transform="translate(653.5 486.8) rotate(48.2)" y="2.83" font-size="7.9" text-anchor="middle" fill="#111" textLength="36.3" lengthAdjust="spacingAndGlyphs" stroke="#111" stroke-width="0.2">138°50'35"</text>
<text transform="translate(620.0 529.9) rotate(17.8)" y="2.83" font-size="7.9" text-anchor="middle" fill="#111" textLength="36.3" lengthAdjust="spacingAndGlyphs" stroke="#111" stroke-width="0.2">108°22'45"</text>
<text transform="translate(611.2 564.7) rotate(-1.8)" y="2.83" font-size="7.9" text-anchor="middle" fill="#111" textLength="32.1" lengthAdjust="spacingAndGlyphs" stroke="#111" stroke-width="0.2">87°46'55"</text>
<text transform="translate(630.5 573.6) rotate(-1.8)" y="2.83" font-size="7.9" text-anchor="middle" fill="#111" textLength="32.1" lengthAdjust="spacingAndGlyphs" stroke="#111" stroke-width="0.2">87°46'55"</text>
<text transform="translate(625.6 606.3) rotate(-35.5)" y="2.83" font-size="7.9" text-anchor="middle" fill="#111" textLength="32.1" lengthAdjust="spacingAndGlyphs" stroke="#111" stroke-width="0.2">54°05'45"</text>
<text transform="translate(663.8 635.1) rotate(-75.0)" y="2.83" font-size="7.9" text-anchor="middle" fill="#111" textLength="32.1" lengthAdjust="spacingAndGlyphs" stroke="#111" stroke-width="0.2">15°10'20"</text>
<text transform="translate(735.3 620.6) rotate(44.5)" y="2.83" font-size="7.9" text-anchor="middle" fill="#111" textLength="36.3" lengthAdjust="spacingAndGlyphs" stroke="#111" stroke-width="0.2">134°21'50"</text>
<text transform="translate(753.2 590.9) rotate(21.2)" y="2.83" font-size="7.9" text-anchor="middle" fill="#111" textLength="35.2" lengthAdjust="spacingAndGlyphs" stroke="#111" stroke-width="0.2">111°52'40"</text>
<text transform="translate(829.2 620.2) rotate(21.5)" y="2.83" font-size="7.9" text-anchor="middle" fill="#111" textLength="35.2" lengthAdjust="spacingAndGlyphs" stroke="#111" stroke-width="0.2">111°52'40"</text>
<text transform="translate(701.8 467.8) rotate(83.5)" y="2.83" font-size="7.9" text-anchor="middle" fill="#111" textLength="36.3" lengthAdjust="spacingAndGlyphs" stroke="#111" stroke-width="0.2">173°24'10"</text>
<text transform="translate(718.9 464.7) rotate(86.8)" y="2.83" font-size="7.9" text-anchor="middle" fill="#111" textLength="36.3" lengthAdjust="spacingAndGlyphs" stroke="#111" stroke-width="0.2">176°46'15"</text>
<text transform="translate(892.6 571.0) rotate(86.8)" y="2.83" font-size="7.9" text-anchor="middle" fill="#111" textLength="36.3" lengthAdjust="spacingAndGlyphs" stroke="#111" stroke-width="0.2">176°35'50"</text>
<text transform="translate(1017.3 472.5) rotate(90.0)" y="2.83" font-size="7.9" text-anchor="middle" fill="#111" textLength="23.0" lengthAdjust="spacingAndGlyphs" stroke="#111" stroke-width="0.2">16.000</text>
<text transform="translate(297.6 440.8) rotate(-89.4)" y="2.83" font-size="7.9" text-anchor="middle" fill="#111" textLength="108.5" lengthAdjust="spacingAndGlyphs" stroke="#111" stroke-width="0.2">0°35'25" (BEARING DERIVATION)</text>
<text transform="translate(308.0 481.0) rotate(-89.4)" y="2.83" font-size="7.9" text-anchor="middle" fill="#111" textLength="27.1" lengthAdjust="spacingAndGlyphs" stroke="#111" stroke-width="0.2">187.095</text>
<text y="158.97" font-size="7.6" fill="#111" stroke="#111" stroke-width="0.25"><tspan x="270.6" textLength="32.4" lengthAdjust="spacingAndGlyphs">TRAVERSE</tspan> <tspan x="308.0" textLength="13.2" lengthAdjust="spacingAndGlyphs">HUB</tspan> <tspan x="326.3" textLength="6.3" lengthAdjust="spacingAndGlyphs">#1</tspan></text>
<text transform="translate(268.4 690.5) rotate(-88.5)" y="3.44" font-size="9.6" text-anchor="middle" fill="#111" textLength="47.0" lengthAdjust="spacingAndGlyphs">PLAN H641</text>
<text transform="translate(336.0 243.3)" y="2.65" font-size="7.4" text-anchor="start" fill="#333" textLength="33.3" lengthAdjust="spacingAndGlyphs">SEE PLAN</text>
<text transform="translate(336.0 250.2)" y="2.65" font-size="7.4" text-anchor="start" fill="#333" textLength="32.6" lengthAdjust="spacingAndGlyphs">EPP53591</text>
<text transform="translate(336.0 264.5)" y="2.65" font-size="7.4" text-anchor="start" fill="#333" textLength="45.9" lengthAdjust="spacingAndGlyphs">DISTURBED IP</text>
<text transform="translate(336.0 271.8)" y="2.65" font-size="7.4" text-anchor="start" fill="#333" textLength="33.1" lengthAdjust="spacingAndGlyphs">REMOVED</text>
<text transform="translate(336.0 279.1)" y="2.65" font-size="7.4" text-anchor="start" fill="#333" textLength="41.2" lengthAdjust="spacingAndGlyphs">RESET IP ON</text>
<text transform="translate(336.0 286.4)" y="2.65" font-size="7.4" text-anchor="start" fill="#333" textLength="42.8" lengthAdjust="spacingAndGlyphs">LOT CORNER</text>
<text transform="translate(337.0 306.3) rotate(-88.0)" y="2.83" font-size="7.9" text-anchor="middle" fill="#111" textLength="18.8" lengthAdjust="spacingAndGlyphs" stroke="#111" stroke-width="0.2">0.205</text>
<text transform="translate(343.2 306.9) rotate(-88.0)" y="2.83" font-size="7.9" text-anchor="middle" fill="#111" textLength="28.0" lengthAdjust="spacingAndGlyphs" stroke="#111" stroke-width="0.2">3°35'50"</text>
<text transform="translate(320.2 335.0) rotate(-88.0)" y="2.83" font-size="7.9" text-anchor="middle" fill="#111" textLength="28.0" lengthAdjust="spacingAndGlyphs" stroke="#111" stroke-width="0.2">3°35'50"</text>
<text transform="translate(328.0 335.5) rotate(-88.0)" y="2.83" font-size="7.9" text-anchor="middle" fill="#111" textLength="18.8" lengthAdjust="spacingAndGlyphs" stroke="#111" stroke-width="0.2">0.500</text>
<text transform="translate(377.8 338.5) rotate(-88.0)" y="2.83" font-size="7.9" text-anchor="middle" fill="#111" textLength="18.8" lengthAdjust="spacingAndGlyphs" stroke="#111" stroke-width="0.2">1.135</text>
<text transform="translate(386.7 338.5) rotate(-88.0)" y="2.83" font-size="7.9" text-anchor="middle" fill="#111" textLength="28.0" lengthAdjust="spacingAndGlyphs" stroke="#111" stroke-width="0.2">3°35'50"</text>
<text transform="translate(340.8 348.6)" y="2.51" font-size="7.0" text-anchor="middle" fill="#333" textLength="8.1" lengthAdjust="spacingAndGlyphs">Wt</text>
<text transform="translate(333.8 356.0)" y="2.65" font-size="7.4" text-anchor="middle" fill="#333" textLength="25.4" lengthAdjust="spacingAndGlyphs">(VUALT)</text>
<path d="M337 322.4 Q338 329 348.6 330.6 M332.3 338.8 Q342 339.5 349 344 M373.2 341.6 Q362 342.5 352.5 338.2" fill="none" stroke="#333" stroke-width="0.7"/>
<text transform="translate(1006.6 712.2)" y="2.51" font-size="7.0" text-anchor="middle" fill="#666" textLength="33.5" lengthAdjust="spacingAndGlyphs">SEE PLAN</text>
<text transform="translate(1006.6 719.2)" y="2.51" font-size="7.0" text-anchor="middle" fill="#666" textLength="33.5" lengthAdjust="spacingAndGlyphs">EPP53591</text>
<text transform="translate(1011.3 730.0)" y="2.83" font-size="7.9" text-anchor="middle" fill="#111" textLength="32.1" lengthAdjust="spacingAndGlyphs" stroke="#111" stroke-width="0.2">92°46'00"</text>
<text transform="translate(1008.2 737.3)" y="2.83" font-size="7.9" text-anchor="middle" fill="#111" textLength="18.8" lengthAdjust="spacingAndGlyphs" stroke="#111" stroke-width="0.2">1.492</text>
<text transform="translate(1035.8 745.0)" y="2.36" font-size="6.6" text-anchor="middle" fill="#333">Wt</text>
<text transform="translate(1056.0 735.6) rotate(88.5)" y="2.83" font-size="7.9" text-anchor="middle" fill="#111" textLength="36.3" lengthAdjust="spacingAndGlyphs" stroke="#111" stroke-width="0.2">178°27'00"</text>
<text transform="translate(1047.2 735.8) rotate(88.5)" y="2.83" font-size="7.9" text-anchor="middle" fill="#111" textLength="18.8" lengthAdjust="spacingAndGlyphs" stroke="#111" stroke-width="0.2">0.180</text>
<text transform="translate(1047.0 766.2)" y="2.65" font-size="7.4" text-anchor="middle" fill="#333" textLength="48.0" lengthAdjust="spacingAndGlyphs">(FENCE POST)</text>
<text transform="translate(995.0 783.0) rotate(-90.0)" y="2.58" font-size="7.2" text-anchor="middle" fill="#333" textLength="36.0" lengthAdjust="spacingAndGlyphs">DISTURBED</text>
<text transform="translate(1002.2 779.5) rotate(-90.0)" y="2.83" font-size="7.9" text-anchor="middle" fill="#111" textLength="28.0" lengthAdjust="spacingAndGlyphs" stroke="#111" stroke-width="0.2">2°46'00"</text>
<text transform="translate(1009.3 777.8) rotate(-90.0)" y="2.83" font-size="7.9" text-anchor="middle" fill="#111" textLength="18.8" lengthAdjust="spacingAndGlyphs" stroke="#111" stroke-width="0.2">0.084</text>
<path d="M1042.5 748.2 Q1041 752.5 1033.2 752.8 M1022.5 741 Q1023.5 746.5 1024.8 750.5" fill="none" stroke="#333" stroke-width="0.7"/>
<path d="M1019.4 752.7 L1006.5 770.0" fill="none" stroke="#333" stroke-width="0.70" stroke-dasharray="3 2"/>
<text transform="translate(816.0 896.5)" y="3.94" font-size="11.0" text-anchor="middle" fill="#222">6</text>
<text transform="translate(944.5 897.0)" y="3.94" font-size="11.0" text-anchor="middle" fill="#222">5</text>
<path d="M101.9 339.4 L94.9 458 L101.9 447 L108.9 458 Z" fill="#0a0a0a"/>
<path d="M101.9 446.0 L101.9 543.0" fill="none" stroke="#111" stroke-width="1.00"/>
<path d="M91.3 487.5 L95.8 487.5 L112.6 514.6 L112.6 521.6 L108.0 521.6 L91.3 494.6 Z" fill="#0a0a0a"/>
<path d="M91.8 490 L91.8 520 Q91.6 526.5 86.3 526.3 M112.2 518 L112.2 488.5 Q112.4 482 117.8 482.2" fill="none" stroke="#111" stroke-width="0.9"/>
<path d="M95.1 548.5 L101.9 543.0 L108.7 548.5 M95.1 550.4 L101.9 544.9 L108.7 550.4 M95.1 552.3 L101.9 546.8 L108.7 552.3 M95.1 554.2 L101.9 548.7 L108.7 554.2 M95.1 556.1 L101.9 550.6 L108.7 556.1 M95.1 558.0 L101.9 552.5 L108.7 558.0 M95.1 559.9 L101.9 554.4 L108.7 559.9 M95.1 561.8 L101.9 556.3 L108.7 561.8 M95.1 563.7 L101.9 558.2 L108.7 563.7 M95.1 565.6 L101.9 560.1 L108.7 565.6 M95.1 567.5 L101.9 562.0 L108.7 567.5 M95.1 569.4 L101.9 563.9 L108.7 569.4 M95.1 571.3 L101.9 565.8 L108.7 571.3 M95.1 573.2 L101.9 567.7 L108.7 573.2 M95.1 575.1 L101.9 569.6 L108.7 575.1 M95.1 577.0 L101.9 571.5 L108.7 577.0 M95.1 578.9 L101.9 573.4 L108.7 578.9 M95.1 580.8 L101.9 575.3 L108.7 580.8 M95.1 582.7 L101.9 577.2 L108.7 582.7 M95.1 584.6 L101.9 579.1 L108.7 584.6 M95.1 586.5 L101.9 581.0 L108.7 586.5 M95.1 588.4 L101.9 582.9 L108.7 588.4 M95.1 590.3 L101.9 584.8 L108.7 590.3 M95.1 592.2 L101.9 586.7 L108.7 592.2 M95.1 594.1 L101.9 588.6 L108.7 594.1 M95.1 596.0 L101.9 590.5 L108.7 596.0 M95.1 597.9 L101.9 592.4 L108.7 597.9 M95.1 599.8 L101.9 594.3 L108.7 599.8 M95.1 601.7 L101.9 596.2 L108.7 601.7 M95.1 603.6 L101.9 598.1 L108.7 603.6 M95.1 605.5 L101.9 600.0 L108.7 605.5 M95.1 607.4 L101.9 601.9 L108.7 607.4 M95.1 609.3 L101.9 603.8 L108.7 609.3 M95.1 611.2 L101.9 605.7 L108.7 611.2" fill="none" stroke="#555" stroke-width="0.75"/>
<path d="M101.9 543 L94.9 549 L94.9 613 L101.9 605.5 L108.9 613 L108.9 549 Z" fill="none" stroke="#444" stroke-width="0.8"/>
<path d="M101.9 543.0 L101.9 605.5" fill="none" stroke="#222" stroke-width="0.90"/>
</g>
</svg>
</body></html>
